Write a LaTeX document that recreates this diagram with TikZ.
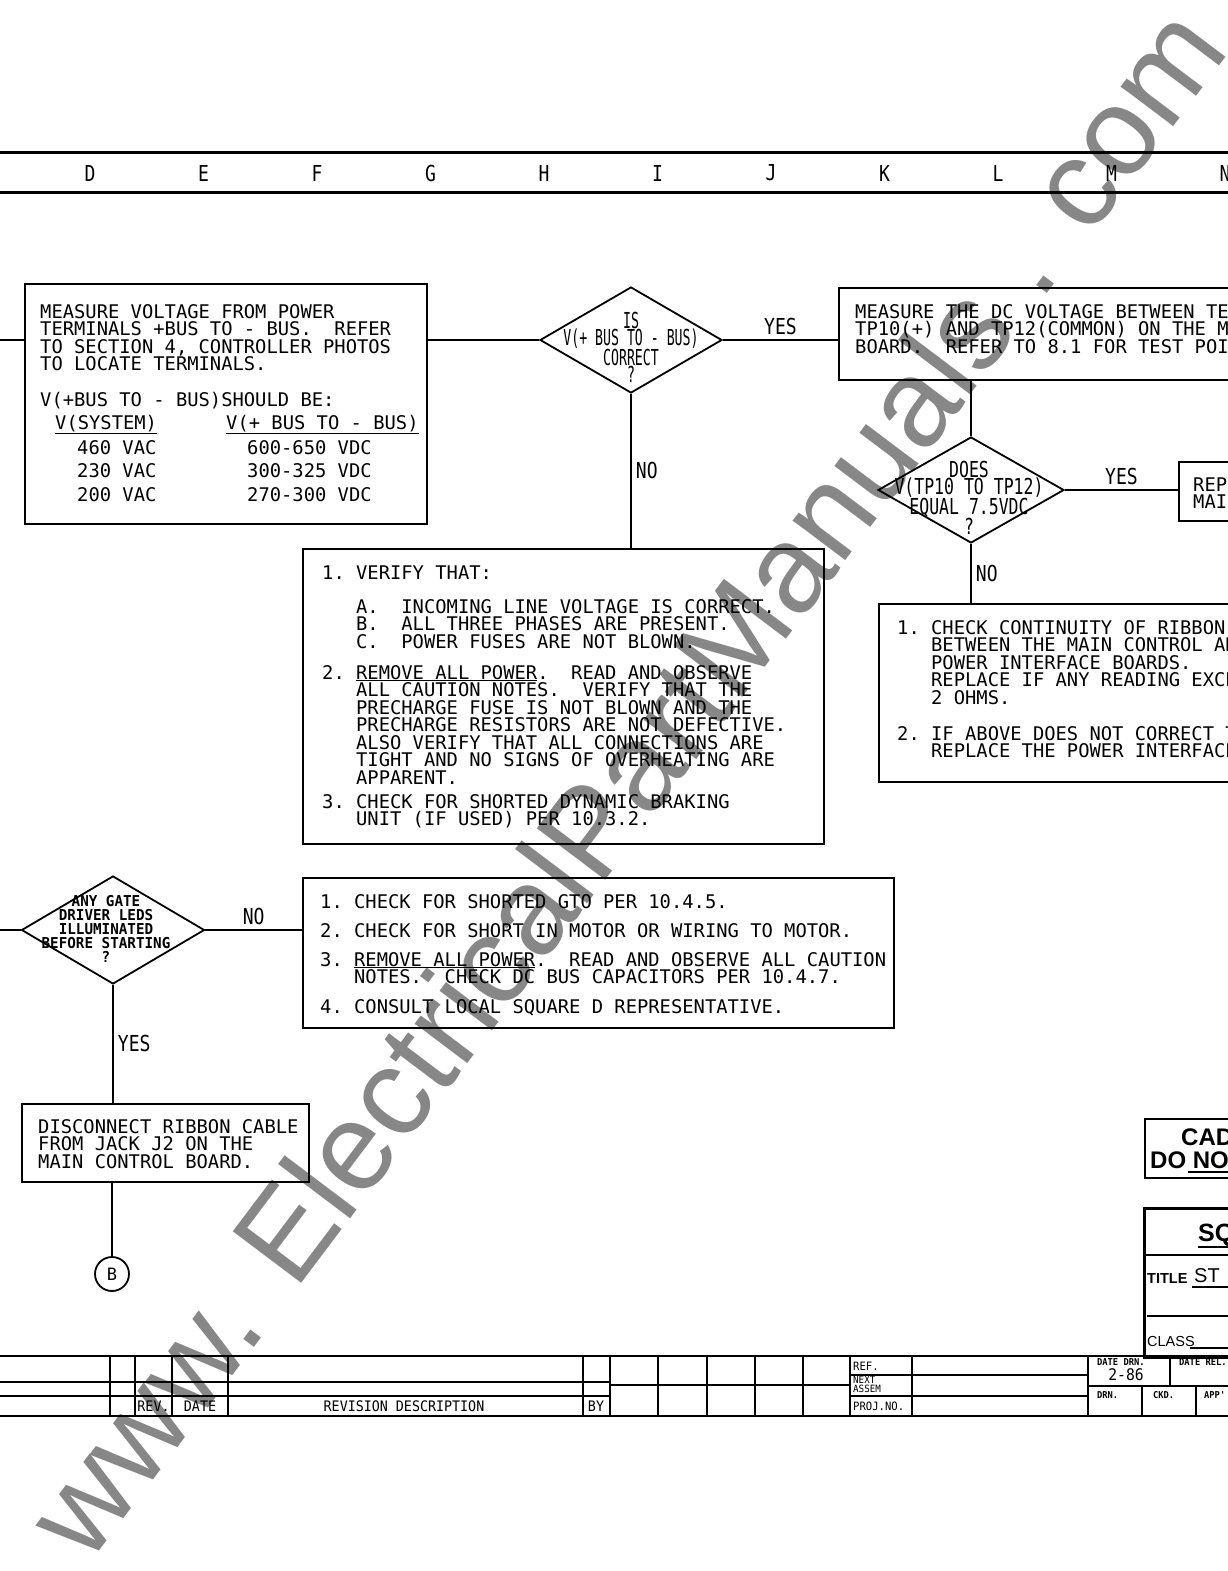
\documentclass[tikz,border=0pt]{standalone}
\usepackage{fontspec}
\setmainfont{DejaVu Sans Mono}
\newfontfamily\condfont[FakeStretch=0.6]{DejaVu Sans Mono}
\newfontfamily\widefont[FakeStretch=0.75]{DejaVu Sans Mono}
\newfontfamily\lblfont[FakeStretch=0.82]{DejaVu Sans Mono}
\newfontfamily\gatefont[FakeStretch=0.95]{DejaVu Sans Mono}
\newfontfamily\tblfont[FakeStretch=0.92]{DejaVu Sans Mono}
\newfontfamily\sansfont{Liberation Sans}
\usetikzlibrary{shapes.geometric,positioning}
\newcommand\fs[2]{\fontsize{#1}{#2}\selectfont}
\newcommand\msp{\spaceskip=\fontcharwd\font`0\relax\xspaceskip=\spaceskip}
\newcommand\ind[1]{\hspace*{#1\fontcharwd\font`0}}

\begin{document}
\begin{tikzpicture}[x=1pt,y=-1pt,
  box/.style={draw,line width=1.8pt,rectangle,inner sep=0,anchor=north west},
  ask/.style={draw,line width=1.8pt,diamond,inner sep=0},
  txt/.style={anchor=base west,inner sep=0,text width=640pt,execute at begin node=\msp,font={\frenchspacing\fs{18.8}{17.5}}},
  dtxt/.style={anchor=base,inner sep=0,text width=200pt,execute at begin node={\centering\msp},font={\condfont\fs{22}{17.3}}},
  lbl/.style={inner sep=4pt,font=\lblfont\fs{22}{22}},
  conn/.style={line width=1.8pt},
  zone/.style={inner sep=0,font=\lblfont\fs{22}{22}},
  tbl/.style={inner sep=0,execute at begin node=\msp,font={\tblfont\fs{14.5}{14.5}}},
  wm/.style={inner sep=0,anchor=base,rotate=53,text=black!47,font=\sansfont\fs{124.5}{124.5}}]

\useasboundingbox (0,0) rectangle (1228,1571);
\clip (0,0) rectangle (1228,1571);

% Filigrane
\node[wm] (wmark) at (660,808) {www. ElectricalPartManuals . com};

% Bandeau des colonnes
\draw[line width=3pt] (0,152) -- (1228,152);
\draw[line width=3pt] (0,192) -- (1228,192);
\foreach \l [count=\i from 0] in {D,E,F,G,H,I,J,K,L,M,N}
  \node[zone] (zone-\l) at (90+113.5*\i,173) {\l};

% Mesure du bus
\coordinate (inA) at (0,340);
\node[box,minimum width=402,minimum height=240] (meas) at (24,283) {};
\node[txt] (measT) at (40,318) {MEASURE VOLTAGE FROM POWER\\
TERMINALS +BUS TO - BUS.~ REFER\\
TO SECTION 4, CONTROLLER PHOTOS\\
TO LOCATE TERMINALS.\\[18pt]
V(+BUS TO - BUS)SHOULD BE:\\[5.5pt]
\hspace*{15pt}\makebox[171pt][l]{\underline{V(SYSTEM)}}\underline{V(+ BUS TO - BUS)}\\[6pt]
\hspace*{37pt}\makebox[170pt][l]{460 VAC}600-650 VDC\\[5.8pt]
\hspace*{37pt}\makebox[170pt][l]{230 VAC}300-325 VDC\\[5.8pt]
\hspace*{37pt}\makebox[170pt][l]{200 VAC}270-300 VDC};

% Question bus
\node[ask,minimum width=182,minimum height=106] (busok) at (631,340) {};
\node[dtxt] (busokT) at (631,328) {IS\\V(+ BUS TO - BUS)\\CORRECT\\?};

% Mesure TP10 / TP12
\node[box,minimum width=402,minimum height=92] (tp) at (838,287) {};
\node[txt] (tpT) at (855,318) {MEASURE THE DC VOLTAGE BETWEEN TEST\\
TP10(+) AND TP12(COMMON) ON THE MAIN\\
BOARD.~ REFER TO 8.1 FOR TEST POINTS};

% Question 7.5 VDC
\node[ask,minimum width=186,minimum height=106] (tpeq) at (971,490) {};
\node[dtxt,font={\widefont\fs{22}{17.3}}] (tpeqT) at (969,477) {DOES\\V(TP10 TO TP12)\\EQUAL 7.5VDC\\?};

% Remplacement carte
\node[box,minimum width=62,minimum height=59] (repl) at (1178,461) {};
\node[txt] (replT) at (1193,491) {REPLACE\\MAIN};

% Continuite nappe
\node[box,minimum width=362,minimum height=178] (ribbon) at (878,603) {};
\node[txt] (ribbonT) at (897,634) {1. CHECK CONTINUITY OF RIBBON CABLE\\
\ind{3}BETWEEN THE MAIN CONTROL AND\\
\ind{3}POWER INTERFACE BOARDS.\\
\ind{3}REPLACE IF ANY READING EXCEEDS\\
\ind{3}2 OHMS.\\[18.5pt]
2. IF ABOVE DOES NOT CORRECT THE\\
\ind{3}REPLACE THE POWER INTERFACE};

% Verifications
\node[box,minimum width=521,minimum height=295] (verify) at (302,548) {};
\node[txt] (verifyT) at (322,579) {1. VERIFY THAT:\\[16.5pt]
\ind{3}A.~ INCOMING LINE VOLTAGE IS CORRECT.\\
\ind{3}B.~ ALL THREE PHASES ARE PRESENT.\\
\ind{3}C.~ POWER FUSES ARE NOT BLOWN.\\[13.5pt]
2. \underline{REMOVE ALL POWER}.~ READ AND OBSERVE\\
\ind{3}ALL CAUTION NOTES.~ VERIFY THAT THE\\
\ind{3}PRECHARGE FUSE IS NOT BLOWN AND THE\\
\ind{3}PRECHARGE RESISTORS ARE NOT DEFECTIVE.\\
\ind{3}ALSO VERIFY THAT ALL CONNECTIONS ARE\\
\ind{3}TIGHT AND NO SIGNS OF OVERHEATING ARE\\
\ind{3}APPARENT.\\[6.5pt]
3. CHECK FOR SHORTED DYNAMIC BRAKING\\
\ind{3}UNIT (IF USED) PER 10.3.2.};

% Question LEDs
\coordinate (inB) at (0,930);
\node[ask,minimum width=183,minimum height=108] (gate) at (113,930) {};
\node[dtxt,font={\gatefont\bfseries\fs{15}{14}}] (gateT) at (106,906.5) {ANY GATE\\DRIVER LEDS\\ILLUMINATED\\BEFORE STARTING\\?};

% Court-circuit GTO
\node[box,minimum width=591,minimum height=150] (gto) at (302,877) {};
\node[txt] (gtoT) at (320,908) {1. CHECK FOR SHORTED GTO PER 10.4.5.\\[11.5pt]
2. CHECK FOR SHORT IN MOTOR OR WIRING TO MOTOR.\\[11.5pt]
3. \underline{REMOVE ALL POWER}.~ READ AND OBSERVE ALL CAUTION\\
\ind{3}NOTES.~ CHECK DC BUS CAPACITORS PER 10.4.7.\\[12.5pt]
4. CONSULT LOCAL SQUARE D REPRESENTATIVE.};

% Deconnexion J2
\node[box,minimum width=287,minimum height=78] (disc) at (21,1103) {};
\node[txt] (discT) at (38,1133) {DISCONNECT RIBBON CABLE\\
FROM JACK J2 ON THE\\
MAIN CONTROL BOARD.};

% Renvoi B
\node[circle,draw,line width=1.8pt,minimum size=34,inner sep=0,font=\fs{17}{17}] (conB) at (112,1274) {B};

% Liaisons
\draw[conn] (inA) -- (inA -| meas.west);
\draw[conn] (meas.east |- busok.west) -- (busok.west);
\draw[conn] (busok.east) -- node[lbl,above] (yes1) {YES} (busok.east -| tp.west);
\draw[conn] (busok.south) -- node[lbl,right] (no1) {NO} (busok.south |- verify.north);
\draw[conn] (tpeq.north |- tp.south) -- (tpeq.north);
\draw[conn] (tpeq.east) -- node[lbl,above] (yes2) {YES} (tpeq.east -| repl.west);
\draw[conn] (tpeq.south) -- node[lbl,right] (no2) {NO} (tpeq.south |- ribbon.north);
\draw[conn] (inB) -- (gate.west);
\draw[conn] (gate.east) -- node[lbl,above] (no3) {NO} (gate.east -| gto.west);
\draw[conn] (gate.south) -- node[lbl,right] (yes3) {YES} (gate.south |- disc.north);
\draw[conn] (conB.north |- disc.south) -- (conB.north);

% Avertissement CAD
\node[box,minimum width=100,minimum height=59] (cad) at (1144,1118) {};
\node[anchor=base west,inner sep=0,font=\sansfont\bfseries\fs{24}{24}] (cadT) at (1181,1145) {CAD};
\node[anchor=base west,inner sep=0,font=\sansfont\bfseries\fs{24}{24}] (donotT) at (1150,1168) {DO NOT};
\draw[line width=2.2pt] (1188,1172) -- (1240,1172);

% Cartouche
\node[box,line width=2.8pt,minimum width=100,minimum height=149] (cart) at (1143,1207) {};
\node[anchor=base west,inner sep=0,font=\sansfont\bfseries\fs{25}{25}] (sqd) at (1198,1241) {SQUARE D};
\draw[line width=2.6pt] (1198,1247) -- (1240,1247);
\draw[line width=1.2pt] (1145,1255) -- (1240,1255);
\node[anchor=base west,inner sep=0,font=\sansfont\bfseries\fs{14.5}{14.5}] (ttl) at (1147,1283) {TITLE};
\node[anchor=base west,inner sep=0,font=\sansfont\fs{20}{20}] (ttlT) at (1194,1282) {ST};
\draw[line width=1.4pt] (1192,1287) -- (1240,1287);
\draw[line width=1.4pt] (1147,1316) -- (1240,1316);
\node[anchor=base west,inner sep=0,font=\sansfont\fs{14.5}{14.5}] (cls) at (1147,1346) {CLASS};
\draw[line width=1.4pt] (1190,1348) -- (1240,1348);

% Tableau des revisions
\draw[line width=2.6pt] (0,1356) -- (1228,1356);
\draw[line width=2.6pt] (0,1416) -- (1228,1416);
\foreach \x in {110,135,172,228,583,610,658,707,755,803,850,912,1088}
  \draw[line width=1.2pt] (\x,1356) -- (\x,1416);
\draw[line width=1.2pt] (0,1382) -- (610,1382);
\draw[line width=1.2pt] (0,1396) -- (610,1396);
\draw[line width=1.2pt] (610,1385) -- (850,1385);
\draw[line width=1.2pt] (850,1375) -- (1088,1375);
\draw[line width=1.2pt] (850,1396) -- (1088,1396);
\draw[line width=1.2pt] (1088,1386) -- (1228,1386);
\draw[line width=1.2pt] (1170,1356) -- (1170,1386);
\draw[line width=1.2pt] (1142,1386) -- (1142,1416);
\draw[line width=1.2pt] (1196,1386) -- (1196,1416);
\node[tbl] (rev) at (153.5,1406) {REV.};
\node[tbl] (revdate) at (200,1406) {DATE};
\node[tbl] (revdesc) at (404,1406) {REVISION DESCRIPTION};
\node[tbl] (revby) at (596,1406) {BY};
\node[tbl,anchor=west,font=\tblfont\fs{11.5}{11.5}] (ref) at (853,1366) {REF.};
\node[tbl,anchor=west,font=\tblfont\fs{10}{10}] (nxt) at (853,1380) {NEXT};
\node[tbl,anchor=west,font=\tblfont\fs{10}{10}] (assem) at (853,1389) {ASSEM};
\node[tbl,anchor=west,font=\tblfont\fs{11.5}{11.5}] (proj) at (853,1406) {PROJ.NO.};
\node[tbl,anchor=west,font=\tblfont\bfseries\fs{9.5}{9.5}] (datedrn) at (1097,1362) {DATE DRN.};
\node[tbl,font=\tblfont\fs{16}{16}] (drndate) at (1126,1375) {2-86};
\node[tbl,anchor=west,font=\tblfont\bfseries\fs{9.5}{9.5}] (daterel) at (1179,1362) {DATE REL.};
\node[tbl,anchor=west,font=\tblfont\bfseries\fs{9.5}{9.5}] (drn) at (1097,1395) {DRN.};
\node[tbl,anchor=west,font=\tblfont\bfseries\fs{9.5}{9.5}] (ckd) at (1153,1395) {CKD.};
\node[tbl,anchor=west,font=\tblfont\bfseries\fs{9.5}{9.5}] (app) at (1204,1395) {APP'};

\end{tikzpicture}
\end{document}
